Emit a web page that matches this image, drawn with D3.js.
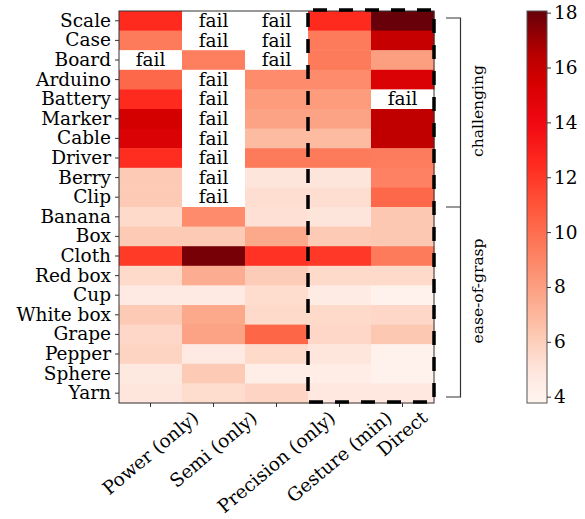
<!DOCTYPE html>
<html>
<head>
<meta charset="utf-8">
<script src="https://cdn.jsdelivr.net/npm/d3@7"></script>
<style>
  body { margin: 0; background: #fff; }
  text { font-family: "DejaVu Serif", serif; }
</style>
</head>
<body>
<svg id="chart" width="585" height="519"></svg>
<script>
// rows (objects) and columns (grasp modes)
let objects = ["Scale", "Case", "Board", "Arduino", "Battery", "Marker", "Cable", "Driver", "Berry", "Clip",
    "Banana", "Box", "Cloth", "Red box", "Cup", "White box", "Grape", "Pepper", "Sphere", "Yarn"];
let modes = ["Power (only)", "Semi (only)", "Precision (only)", "Gesture (min)", "Direct"];

// one array per column, null = fail
let powerOnly     = [12.5, 9.5, null, 10.2, 12.5, 15.5, 15.2, 12.4, 6.2, 6.2, 5.5, 6.2, 11.9, 5.5, 4.6, 6.2, 5.6, 5.8, 4.7, 4.9];
let semiOnly      = [null, null, 9.3, null, null, null, null, null, null, null, 8.8, 6.2, 17.7, 7.4, 4.6, 7.6, 7.8, 4.6, 6.2, 5.4];
let precisionOnly = [null, null, null, 8.8, 8.1, 7.8, 6.8, 9.5, 5.0, 5.3, 5.2, 7.6, 12.2, 6.1, 5.4, 5.5, 10.3, 5.5, 4.3, 5.7];
let gestureMin    = [12.5, 9.5, 9.5, 8.8, 8.1, 7.8, 6.8, 9.5, 5.0, 5.3, 5.0, 6.2, 12.0, 5.5, 4.5, 5.5, 5.6, 4.9, 4.4, 4.8];
let direct        = [18.0, 16.0, 8.0, 15.2, null, 16.2, 16.2, 9.4, 9.2, 10.2, 6.3, 6.3, 9.5, 5.5, 4.0, 5.6, 6.3, 4.0, 4.1, 4.8];
let columns = [powerOnly, semiOnly, precisionOnly, gestureMin, direct];

let colorTicks = [4, 6, 8, 10, 12, 14, 16, 18];
let groups = [
    {name: "challenging", from: 0, to: 10},
    {name: "ease-of-grasp", from: 10, to: 20}
];

// colormap stops
let cmapValues = [3.8, 5, 6.5, 8, 9.5, 11, 12.5, 14, 15.5, 16.5, 18];
let cmapColors = ["#fff5f0", "#fee5db", "#fdc3ab", "#fc9e80", "#fd7a5a", "#ff5438", "#ff2a1e", "#f00812", "#d40000", "#b80000", "#670008"];

let svg = d3.select("#chart");
let plotLeft = 119, plotRight = 434, plotTop = 11, plotBottom = 403;

let x = d3.scaleBand().domain(modes).range([plotLeft, plotRight]);
let y = d3.scaleBand().domain(objects).range([plotTop, plotBottom]);
let color = d3.scaleLinear().domain(cmapValues).range(cmapColors).interpolate(d3.interpolateRgb).clamp(true);

let cells = [];
for (let c = 0; c < modes.length; c++) {
    for (let r = 0; r < objects.length; r++) {
        cells.push({mode: modes[c], obj: objects[r], value: columns[c][r]});
    }
}

svg.append("g").selectAll("rect").data(cells)
    .enter().append("rect")
    .attr("x", d => x(d.mode))
    .attr("y", d => y(d.obj))
    .attr("width", x.bandwidth() + 0.5)
    .attr("height", y.bandwidth() + 0.5)
    .attr("fill", d => d.value === null ? "#fff" : color(d.value));

svg.append("g").selectAll("text").data(cells.filter(d => d.value === null))
    .enter().append("text")
    .attr("x", d => x(d.mode) + x.bandwidth() / 2)
    .attr("y", d => y(d.obj) + y.bandwidth() / 2)
    .attr("text-anchor", "middle")
    .attr("dy", "0.33em")
    .style("font-size", "18.5px")
    .text("fail");

// frame
svg.append("rect")
    .attr("x", plotLeft).attr("y", plotTop)
    .attr("width", plotRight - plotLeft).attr("height", plotBottom - plotTop)
    .attr("fill", "none").attr("stroke", "#333").attr("stroke-width", 1);

// y axis
let yAxis = svg.append("g")
    .attr("transform", "translate(" + plotLeft + ",0)")
    .call(d3.axisLeft(y).tickSize(4).tickPadding(4));
yAxis.select(".domain").remove();
yAxis.selectAll("line").attr("stroke", "#333");
yAxis.selectAll("text").style("font-size", "18.5px").attr("fill", "#000");

// x axis
let xAxis = svg.append("g")
    .attr("transform", "translate(0," + plotBottom + ")")
    .call(d3.axisBottom(x).tickSize(4).tickFormat(""));
xAxis.select(".domain").remove();
xAxis.selectAll("line").attr("stroke", "#333");

let angle = 40 * Math.PI / 180;
modes.forEach(function (m) {
    let t = svg.append("text")
        .style("font-size", "18.5px")
        .attr("text-anchor", "middle")
        .attr("dy", "0.33em")
        .text(m);
    let w = t.node().getComputedTextLength();
    let h = 16;
    let boxH = w * Math.sin(angle) + h * Math.cos(angle);
    let cx = x(m) + x.bandwidth() / 2;
    t.attr("transform", "translate(" + cx + "," + (409 + boxH / 2) + ") rotate(-40)");
});

// dashed box around gesture + direct
let bx0 = x("Gesture (min)"), bx1 = plotRight;
svg.append("path")
    .attr("d", "M" + bx0 + "," + (plotTop - 1) + "H" + bx1 + "V" + (plotBottom - 1) + "H" + bx0 + "Z")
    .attr("fill", "none")
    .attr("stroke", "#000")
    .attr("stroke-width", 3.5)
    .attr("stroke-dasharray", "14,12")
    .attr("stroke-dashoffset", -5);

// group brackets
let bracketX = 460.5;
let brTop = y(objects[0]) + 7, brBottom = plotBottom - 6;
let brMid = y(objects[groups[1].from]);
svg.append("path")
    .attr("d", "M446," + brTop + "H" + bracketX + "V" + brBottom + "H446M446," + brMid + "H" + bracketX)
    .attr("fill", "none").attr("stroke", "#333").attr("stroke-width", 1.2);
let groupCenters = [111, 291];
groups.forEach(function (g, i) {
    svg.append("text")
        .attr("transform", "translate(483," + groupCenters[i] + ") rotate(-90)")
        .attr("text-anchor", "middle")
        .style("font-size", "15.5px")
        .text(g.name);
});

// colorbar
let cbX = 527, cbW = 20;
let cbScale = d3.scaleLinear().domain([3.77, 18.06]).range([plotBottom, plotTop]);
let grad = svg.append("defs").append("linearGradient")
    .attr("id", "cbgrad")
    .attr("x1", "0%").attr("y1", "100%")
    .attr("x2", "0%").attr("y2", "0%");
d3.range(0, 1.0001, 0.02).forEach(function (t) {
    let v = 3.77 + t * (18.06 - 3.77);
    grad.append("stop").attr("offset", (t * 100) + "%").attr("stop-color", color(v));
});
svg.append("rect")
    .attr("x", cbX).attr("y", plotTop)
    .attr("width", cbW).attr("height", plotBottom - plotTop)
    .attr("fill", "url(#cbgrad)")
    .attr("stroke", "#555").attr("stroke-width", 1);
let cAxis = svg.append("g")
    .attr("transform", "translate(" + (cbX + cbW) + ",0)")
    .call(d3.axisRight(cbScale).tickValues(colorTicks).tickSize(4).tickPadding(3));
cAxis.select(".domain").remove();
cAxis.selectAll("line").attr("stroke", "#333");
cAxis.selectAll("text").style("font-size", "18.5px").attr("fill", "#000");
</script>
</body>
</html>
